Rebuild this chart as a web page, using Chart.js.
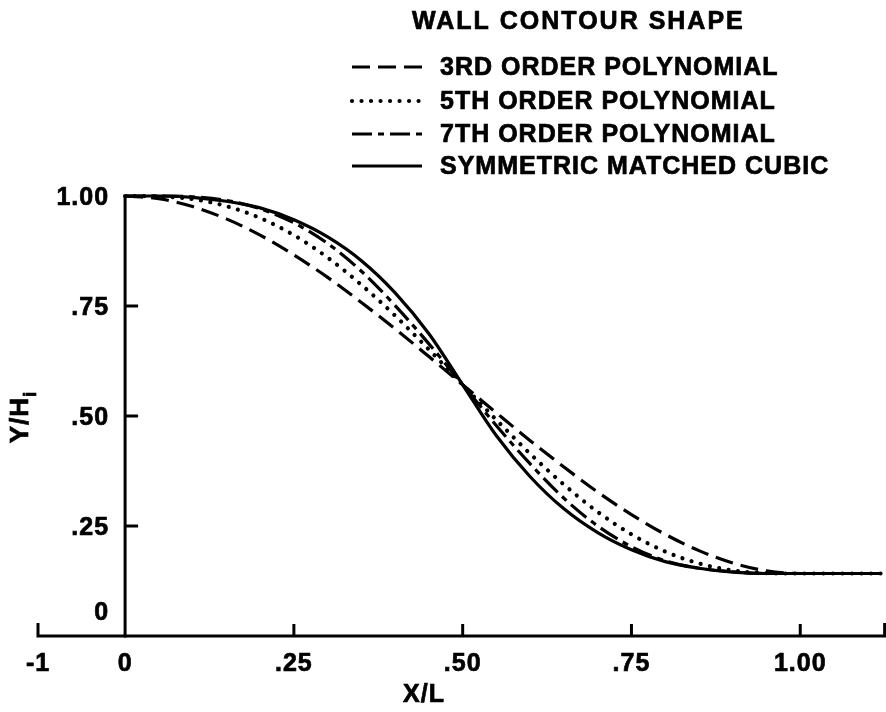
<!DOCTYPE html>
<html>
<head>
<meta charset="utf-8">
<title>Wall contour shape</title>
<script src="https://cdn.jsdelivr.net/npm/chart.js@4.4.0/dist/chart.umd.min.js"></script>
<style>
  body { margin: 0; background: #fff; }
  #grafico { display: block; }
</style>
</head>
<body>
<canvas id="grafico" width="886" height="712"></canvas>
<script>
// Valores (X/L contra Y/Hi)
const posX = [0, 0.05, 0.10, 0.15, 0.20, 0.25, 0.30, 0.35, 0.40, 0.45, 0.50,
              0.55, 0.60, 0.65, 0.70, 0.75, 0.80, 0.85, 0.90, 0.95, 1.00, 1.12];
const tercerOrden = [1.000, 0.994, 0.976, 0.948, 0.911, 0.866, 0.815, 0.758, 0.698, 0.635, 0.571,
                     0.507, 0.444, 0.384, 0.327, 0.276, 0.231, 0.194, 0.166, 0.148, 0.142, 0.142];
const quintoOrden = [1.000, 0.999, 0.993, 0.977, 0.950, 0.911, 0.860, 0.798, 0.728, 0.651, 0.571,
                     0.491, 0.414, 0.344, 0.282, 0.231, 0.192, 0.165, 0.149, 0.143, 0.142, 0.142];
const septimoOrden = [1.000, 1.000, 0.998, 0.990, 0.971, 0.939, 0.892, 0.829, 0.751, 0.664, 0.571,
                      0.478, 0.391, 0.313, 0.250, 0.203, 0.171, 0.154, 0.146, 0.142, 0.142, 0.142];
const cubicaSimetrica = [1.000, 1.000, 0.997, 0.988, 0.973, 0.946, 0.907, 0.853, 0.780, 0.687, 0.571,
                         0.455, 0.362, 0.289, 0.235, 0.196, 0.169, 0.154, 0.145, 0.142, 0.142, 0.142];

const tituloLeyenda = 'WALL CONTOUR SHAPE';
const nombresSeries = ['3RD ORDER POLYNOMIAL', '5TH ORDER POLYNOMIAL',
                       '7TH ORDER POLYNOMIAL', 'SYMMETRIC MATCHED CUBIC'];

const ticksX = [-0.129, 0, 0.25, 0.50, 0.75, 1.00, 1.125];
const etiquetasX = ['-1', '0', '.25', '.50', '.75', '1.00', ''];
const ticksY = [0, 0.25, 0.50, 0.75, 1.00];
const etiquetasY = ['0', '.25', '.50', '.75', '1.00'];

const FUENTE = '"Liberation Sans", Arial, Helvetica, sans-serif';

function armarPuntos(valores) {
    return posX.map((x, i) => ({ x: x, y: valores[i] }));
}

function serie(nombre, valores, dash, ancho, cap) {
    return {
        label: nombre,
        data: armarPuntos(valores),
        borderColor: '#000',
        borderWidth: ancho,
        borderDash: dash,
        borderCapStyle: cap,
        cubicInterpolationMode: 'monotone',
        pointRadius: 0,
        fill: false
    };
}

// Texto algo más grueso, como en la figura impresa
function textoGrueso(ctx, texto, x, y) {
    ctx.fillText(texto, x, y);
    ctx.strokeText(texto, x, y);
}

// Ejes dibujados a mano usando las escalas del gráfico
const pluginEjes = {
    id: 'ejesManuales',
    beforeDatasetsDraw(chart) {
        const ctx = chart.ctx;
        const ex = chart.scales.x;
        const ey = chart.scales.y;
        const y0 = ey.getPixelForValue(0);
        const x0 = ex.getPixelForValue(0);

        ctx.save();
        ctx.strokeStyle = '#000';
        ctx.lineWidth = 3;
        ctx.lineCap = 'butt';
        ctx.lineJoin = 'miter';

        // eje X con sus extremos
        const xIzq = ex.getPixelForValue(ticksX[0]);
        const xDer = ex.getPixelForValue(ticksX[ticksX.length - 1]);
        ctx.beginPath();
        ctx.moveTo(xIzq, y0 - 13);
        ctx.lineTo(xIzq, y0);
        ctx.lineTo(xDer, y0);
        ctx.lineTo(xDer, y0 - 13);
        ctx.stroke();

        ticksX.forEach((v, i) => {
            if (i === 0 || i === ticksX.length - 1 || v === 0) return;
            const px = ex.getPixelForValue(v);
            ctx.beginPath();
            ctx.moveTo(px, y0);
            ctx.lineTo(px, y0 - 12);
            ctx.stroke();
        });

        // eje Y
        ctx.beginPath();
        ctx.moveTo(x0, y0 + 1.5);
        ctx.lineTo(x0, ey.getPixelForValue(1));
        ctx.stroke();

        ticksY.forEach(v => {
            if (v === 0 || v === 1) return;
            const py = ey.getPixelForValue(v);
            ctx.beginPath();
            ctx.moveTo(x0, py);
            ctx.lineTo(x0 + 13, py);
            ctx.stroke();
        });

        // etiquetas
        ctx.fillStyle = '#000';
        ctx.lineWidth = 0.7;
        ctx.font = 'bold 25px ' + FUENTE;
        ctx.letterSpacing = '1px';
        ctx.textBaseline = 'middle';

        ctx.textAlign = 'center';
        ticksX.forEach((v, i) => {
            if (!etiquetasX[i]) return;
            textoGrueso(ctx, etiquetasX[i], ex.getPixelForValue(v), y0 + 28);
        });

        ctx.textAlign = 'right';
        ticksY.forEach((v, i) => {
            let py = ey.getPixelForValue(v) + 2;
            if (v === 0) py = y0 - 23;
            textoGrueso(ctx, etiquetasY[i], x0 - 16, py);
        });

        // títulos de los ejes
        ctx.textAlign = 'center';
        textoGrueso(ctx, 'X/L', 424, 695);

        ctx.save();
        ctx.translate(21, 417);
        ctx.rotate(-Math.PI / 2);
        ctx.textAlign = 'left';
        ctx.font = 'bold 26px ' + FUENTE;
        const anchoPrincipal = ctx.measureText('Y/H').width;
        ctx.font = 'bold 19px ' + FUENTE;
        const anchoSub = ctx.measureText('i').width;
        const inicio = -(anchoPrincipal + anchoSub) / 2;
        ctx.font = 'bold 26px ' + FUENTE;
        textoGrueso(ctx, 'Y/H', inicio, 0);
        ctx.font = 'bold 19px ' + FUENTE;
        textoGrueso(ctx, 'i', inicio + anchoPrincipal, 10);
        ctx.restore();

        ctx.restore();
    }
};

// Leyenda con las muestras de línea de cada serie
const pluginLeyenda = {
    id: 'leyendaManual',
    afterDraw(chart) {
        const ctx = chart.ctx;
        ctx.save();
        ctx.fillStyle = '#000';
        ctx.strokeStyle = '#000';
        ctx.textBaseline = 'middle';
        ctx.textAlign = 'left';

        ctx.font = 'bold 25px ' + FUENTE;
        ctx.letterSpacing = '2px';
        ctx.lineWidth = 0.7;
        textoGrueso(ctx, tituloLeyenda, 412, 22);

        ctx.letterSpacing = '1px';
        const filas = [67, 101, 134, 166];
        chart.data.datasets.forEach((ds, i) => {
            const y = filas[i];
            ctx.lineWidth = ds.borderWidth;
            ctx.lineCap = ds.borderCapStyle || 'butt';
            ctx.setLineDash(ds.borderDash || []);
            ctx.beginPath();
            ctx.moveTo(352, y);
            ctx.lineTo(422, y);
            ctx.stroke();
            ctx.setLineDash([]);
            ctx.lineWidth = 0.7;
            textoGrueso(ctx, ds.label, 440, y + 1);
        });
        ctx.restore();
    }
};

function inicializarGrafico() {
    const ctx = document.getElementById('grafico').getContext('2d');
    new Chart(ctx, {
        type: 'line',
        data: {
            datasets: [
                serie(nombresSeries[0], tercerOrden, [18, 8], 3.2, 'butt'),
                serie(nombresSeries[1], quintoOrden, [0.01, 9.5], 4.2, 'round'),
                serie(nombresSeries[2], septimoOrden, [20, 6, 6, 6], 3.2, 'butt'),
                serie(nombresSeries[3], cubicaSimetrica, [], 3.2, 'butt')
            ]
        },
        options: {
            responsive: false,
            animation: false,
            layout: { padding: { left: 38, right: 0, top: 152, bottom: 76 } },
            plugins: {
                legend: { display: false },
                tooltip: { enabled: false }
            },
            scales: {
                x: { type: 'linear', min: -0.129, max: 1.127, display: false },
                y: { type: 'linear', min: 0, max: 1.1, display: false }
            }
        },
        plugins: [pluginEjes, pluginLeyenda]
    });
}

inicializarGrafico();
</script>
</body>
</html>
